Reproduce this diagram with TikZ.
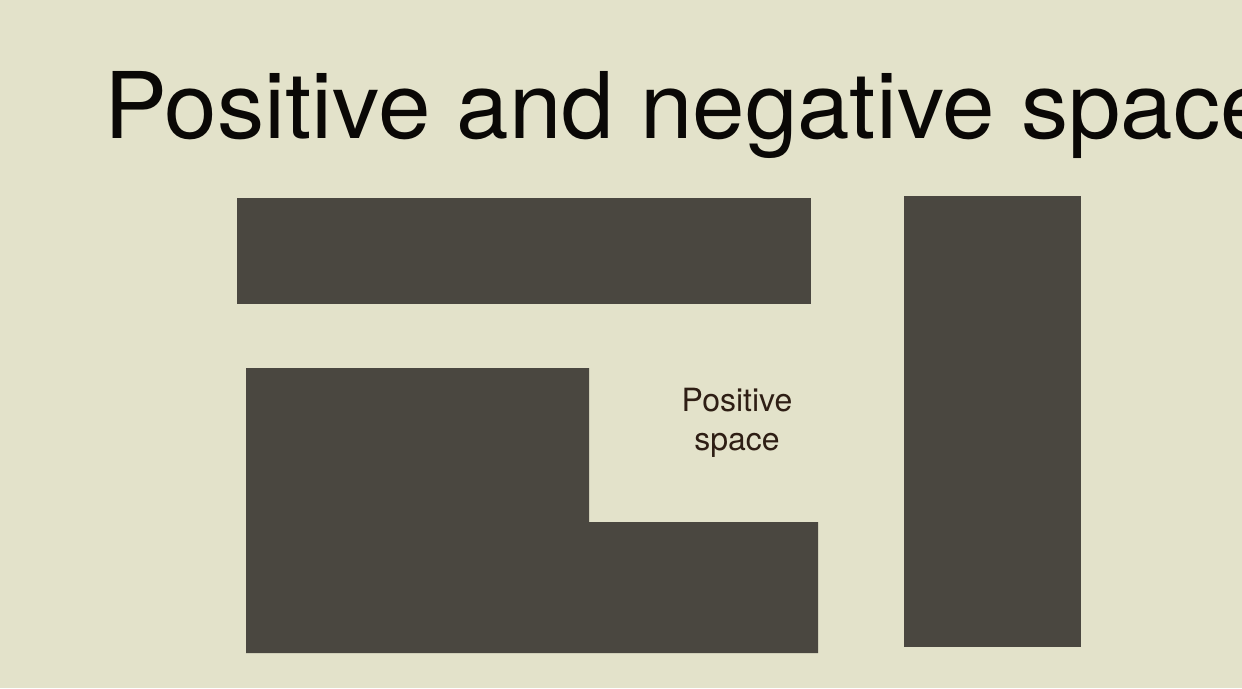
\documentclass[tikz,border=0pt]{standalone}
\usepackage{fontspec}
\setmainfont{TeX Gyre Heros}
\setsansfont{TeX Gyre Heros}
\usetikzlibrary{positioning}
\definecolor{cpaper}{HTML}{E3E2CA}
\definecolor{cblock}{HTML}{4A4740}
\definecolor{cink}{HTML}{0A0806}
\definecolor{cbrown}{HTML}{2E1E14}
\tikzset{
  every picture/.style={font=\sffamily},
  block/.style={fill=cblock, draw=none},
  title/.style={font=\fontsize{92}{92}\selectfont, text=cink, inner sep=0pt, anchor=base west, xscale=1.026},
  note/.style={font=\fontsize{32}{39}\selectfont, text=cbrown, align=center, inner sep=0pt},
}
\begin{document}
\begin{tikzpicture}[x=1pt, y=-1pt]
  \useasboundingbox (0,0) rectangle (1242,688);
  \clip (0,0) rectangle (1242,688);
  \fill[cpaper] (0,0) rectangle (1242,688);
  \node[title] (t) at (104,138) {Positive and negative space};
  % the three dark blocks
  \fill[block] (237,198) rectangle (811,304);
  \fill[block] (246,368) -- (589,368) -- (589,522) -- (818,522) -- (818,653) -- (246,653) -- cycle;
  \fill[block] (904,196) rectangle (1081,647);
  \node[note] (p) at (737,423) {Positive\\space};
\end{tikzpicture}
\end{document}
